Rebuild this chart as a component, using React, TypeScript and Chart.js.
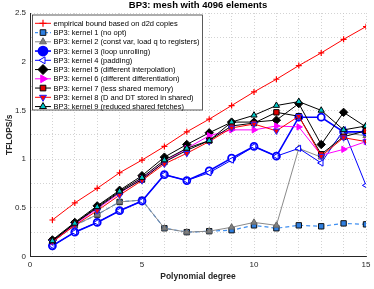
import React, { useEffect, useRef } from 'react';
import { Chart, registerables } from 'chart.js';
import { drawPoint } from 'chart.js/helpers';

Chart.register(...registerables);

const degrees = [1, 2, 3, 4, 5, 6, 7, 8, 9, 10, 11, 12, 13, 14, 15];
const bound = [0.375, 0.55, 0.7, 0.86, 0.99, 1.13, 1.28, 1.41, 1.55, 1.69, 1.82, 1.96, 2.09, 2.23, 2.36];
const kernel1 = [0.15, 0.32, 0.43, 0.56, 0.58, 0.29, 0.25, 0.26, 0.27, 0.32, 0.29, 0.32, 0.31, 0.34, 0.33];
const kernel2 = [0.15, 0.32, 0.43, 0.56, 0.58, 0.29, 0.25, 0.26, 0.3, 0.35, 0.32, 1.11, 1.02, 1.27, 1.24];
const kernel3 = [0.11, 0.25, 0.35, 0.47, 0.57, 0.84, 0.78, 0.88, 1.01, 1.13, 1.03, 1.43, 1.43, 1.28, 1.28];
const kernel4 = [0.11, 0.25, 0.35, 0.47, 0.57, 0.84, 0.78, 0.86, 0.99, 1.13, 1.03, 1.11, 0.96, 1.3, 0.73];
const kernel5 = [0.17, 0.35, 0.52, 0.68, 0.83, 1.02, 1.15, 1.27, 1.38, 1.38, 1.4, 1.57, 1.15, 1.48, 1.33];
const kernel6 = [0.15, 0.33, 0.49, 0.65, 0.8, 0.97, 1.11, 1.24, 1.3, 1.3, 1.34, 1.33, 1.04, 1.1, 1.18];
const kernel7 = [0.16, 0.34, 0.5, 0.66, 0.79, 0.97, 1.09, 1.19, 1.34, 1.37, 1.48, 1.44, 1.05, 1.23, 1.29];
const kernel8 = [0.15, 0.32, 0.47, 0.63, 0.78, 0.95, 1.06, 1.18, 1.32, 1.36, 1.29, 1.44, 1.03, 1.22, 1.18];
const kernel9 = [0.16, 0.34, 0.51, 0.67, 0.81, 0.99, 1.11, 1.19, 1.38, 1.45, 1.55, 1.59, 1.5, 1.3, 1.34];

const labels = [
  'empirical bound based on d2d copies',
  'BP3: kernel 1 (no opt)',
  'BP3: kernel 2 (const var, load q to registers)',
  'BP3: kernel 3 (loop unrolling)',
  'BP3: kernel 4 (padding)',
  'BP3: kernel 5 (different interpolation)',
  'BP3: kernel 6 (different differentiation)',
  'BP3: kernel 7 (less shared memory)',
  'BP3: kernel 8 (D and DT stored in shared)',
  'BP3: kernel 9 (reduced shared fetches)',
];
const seriesValues = [bound, kernel1, kernel2, kernel3, kernel4, kernel5, kernel6, kernel7, kernel8, kernel9];

const title = 'BP3: mesh with 4096 elements';
const xTitle = 'Polynomial degree';
const yTitle = 'TFLOPS/s';

const FONT = '"Liberation Sans", Arial, Helvetica, sans-serif';

type Style = {
  line: string;
  lineWidth: number;
  dash: number[];
  pointStyle: string;
  rotation: number;
  radius: number;
  fill: string;
  border: string;
  borderWidth: number;
  legendRadius: number;
  legendFill: string;
};

const styles: Style[] = [
  { line: '#ff0000', lineWidth: 1, dash: [], pointStyle: 'cross', rotation: 0, radius: 3, fill: '#ff0000', border: '#ff0000', borderWidth: 1.2, legendRadius: 3.5, legendFill: '#ff0000' },
  { line: '#3f8ff0', lineWidth: 1.2, dash: [4, 3], pointStyle: 'rect', rotation: 0, radius: 3.8, fill: '#2f7fe0', border: '#111111', borderWidth: 1, legendRadius: 4, legendFill: '#2f7fe0' },
  { line: '#8a8a8a', lineWidth: 1, dash: [], pointStyle: 'triangle', rotation: 0, radius: 3.6, fill: '#808080', border: '#666666', borderWidth: 1, legendRadius: 4, legendFill: '#808080' },
  { line: '#0000ff', lineWidth: 1.6, dash: [], pointStyle: 'circle', rotation: 0, radius: 3.5, fill: '#ffffff', border: '#0000ff', borderWidth: 1.8, legendRadius: 4.5, legendFill: '#0000ff' },
  { line: '#0000ff', lineWidth: 1, dash: [], pointStyle: 'triangle', rotation: -90, radius: 3.6, fill: '#ffffff', border: '#0000ff', borderWidth: 1, legendRadius: 4, legendFill: '#ffffff' },
  { line: '#000000', lineWidth: 1, dash: [], pointStyle: 'rectRot', rotation: 0, radius: 4.2, fill: '#000000', border: '#000000', borderWidth: 1, legendRadius: 5, legendFill: '#000000' },
  { line: '#ff00ff', lineWidth: 1, dash: [], pointStyle: 'triangle', rotation: 90, radius: 3.6, fill: '#ff00ff', border: '#ff00ff', borderWidth: 1, legendRadius: 4.5, legendFill: '#ff00ff' },
  { line: '#000000', lineWidth: 1, dash: [], pointStyle: 'rect', rotation: 0, radius: 3.8, fill: '#e00000', border: '#000000', borderWidth: 1, legendRadius: 4, legendFill: '#e00000' },
  { line: '#ff0000', lineWidth: 1, dash: [], pointStyle: 'triangle', rotation: 180, radius: 3.6, fill: '#ff0000', border: '#2020ff', borderWidth: 1, legendRadius: 4, legendFill: '#ff0000' },
  { line: '#000000', lineWidth: 1, dash: [], pointStyle: 'triangle', rotation: 0, radius: 3.6, fill: '#00c8c8', border: '#000000', borderWidth: 1, legendRadius: 4, legendFill: '#00c8c8' },
];

const decorPlugin = {
  id: 'decor',
  afterDraw(chart: any) {
    const ctx: CanvasRenderingContext2D = chart.ctx;
    const area = chart.chartArea;
    ctx.save();
    // Title
    ctx.fillStyle = '#000000';
    ctx.font = `bold 9.5px ${FONT}`;
    ctx.textAlign = 'center';
    ctx.textBaseline = 'middle';
    ctx.fillText(title, (area.left + area.right) / 2, 5.5);
    // x title
    ctx.font = `bold 8.5px ${FONT}`;
    ctx.fillStyle = '#262626';
    ctx.fillText(xTitle, (area.left + area.right) / 2, 276.5);
    // y title
    ctx.save();
    ctx.translate(9.5, (area.top + area.bottom) / 2);
    ctx.rotate(-Math.PI / 2);
    ctx.fillText(yTitle, 0, 0);
    ctx.restore();

    // Legend
    const bx = 32.5;
    const by = 15;
    const bw = 170;
    const bh = 95;
    ctx.fillStyle = '#ffffff';
    ctx.fillRect(bx, by, bw, bh);
    ctx.strokeStyle = '#333333';
    ctx.lineWidth = 0.8;
    ctx.strokeRect(bx, by, bw, bh);
    const rowH = 9.25;
    ctx.font = `7.5px ${FONT}`;
    ctx.textAlign = 'left';
    ctx.textBaseline = 'middle';
    labels.forEach((lab, i) => {
      const st = styles[i];
      const y = by + 8.3 + i * rowH;
      ctx.save();
      ctx.strokeStyle = st.line;
      ctx.lineWidth = st.lineWidth;
      ctx.setLineDash(st.dash.length ? [3, 2] : []);
      ctx.beginPath();
      ctx.moveTo(35, y);
      ctx.lineTo(51, y);
      ctx.stroke();
      ctx.setLineDash([]);
      ctx.fillStyle = st.legendFill;
      ctx.strokeStyle = st.border;
      ctx.lineWidth = st.borderWidth;
      drawPoint(ctx, { pointStyle: st.pointStyle as any, rotation: st.rotation, radius: st.legendRadius, borderWidth: st.borderWidth }, 43, y);
      ctx.restore();
      ctx.fillStyle = '#000000';
      ctx.fillText(lab, 53.5, y + 0.5);
    });
    ctx.restore();
  },
};

export default function App() {
  const ref = useRef<HTMLCanvasElement>(null);
  useEffect(() => {
    document.body.style.margin = '0';
    const canvas = ref.current;
    if (!canvas) return;
    const datasets = seriesValues.map((vals, i) => {
      const st = styles[i];
      return {
        label: labels[i],
        data: degrees.map((d, j) => ({ x: d, y: vals[j] })),
        borderColor: st.line,
        borderWidth: st.lineWidth,
        borderDash: st.dash,
        backgroundColor: st.fill,
        pointStyle: st.pointStyle,
        pointRotation: st.rotation,
        pointRadius: st.radius,
        pointBackgroundColor: st.fill,
        pointBorderColor: st.border,
        pointBorderWidth: st.borderWidth,
        tension: 0,
        fill: false,
        order: 20 - i,
      };
    });
    const chart = new Chart(canvas, {
      type: 'line',
      data: { datasets: datasets as any },
      plugins: [decorPlugin],
      options: {
        animation: false,
        responsive: false,
        maintainAspectRatio: false,
        layout: { padding: { top: 13, right: 8, left: 0, bottom: 0 } },
        plugins: { legend: { display: false }, title: { display: false }, tooltip: { enabled: false } },
        scales: {
          x: {
            type: 'linear',
            min: 0,
            max: 15,
            afterFit: (s: any) => { s.height = 32.5; },
            ticks: {
              stepSize: 1,
              autoSkip: false,
              maxRotation: 0,
              padding: 3,
              color: '#262626',
              font: { family: FONT, size: 8 },
              callback: (v: any) => (Number(v) % 5 === 0 ? String(v) : ''),
            },
            grid: { color: '#c8c8c8', lineWidth: 0.8, drawTicks: false },
            border: { display: true, color: '#262626', width: 1, dash: [1, 2] },
          },
          y: {
            type: 'linear',
            min: 0,
            max: 2.5,
            afterFit: (s: any) => { s.width = 30; },
            ticks: {
              stepSize: 0.25,
              autoSkip: false,
              padding: 4,
              color: '#262626',
              font: { family: FONT, size: 8 },
              callback: (v: any) => (Math.abs((Number(v) * 2) % 1) < 1e-6 ? String(Number(v)) : ''),
            },
            grid: { color: '#c8c8c8', lineWidth: 0.8, drawTicks: false },
            border: { display: true, color: '#262626', width: 1, dash: [1, 2] },
          },
        },
      } as any,
    });
    return () => chart.destroy();
  }, []);
  return (
    <div style={{ width: 374, height: 289 }}>
      <canvas ref={ref} width={374} height={289} style={{ display: 'block' }} />
    </div>
  );
}
